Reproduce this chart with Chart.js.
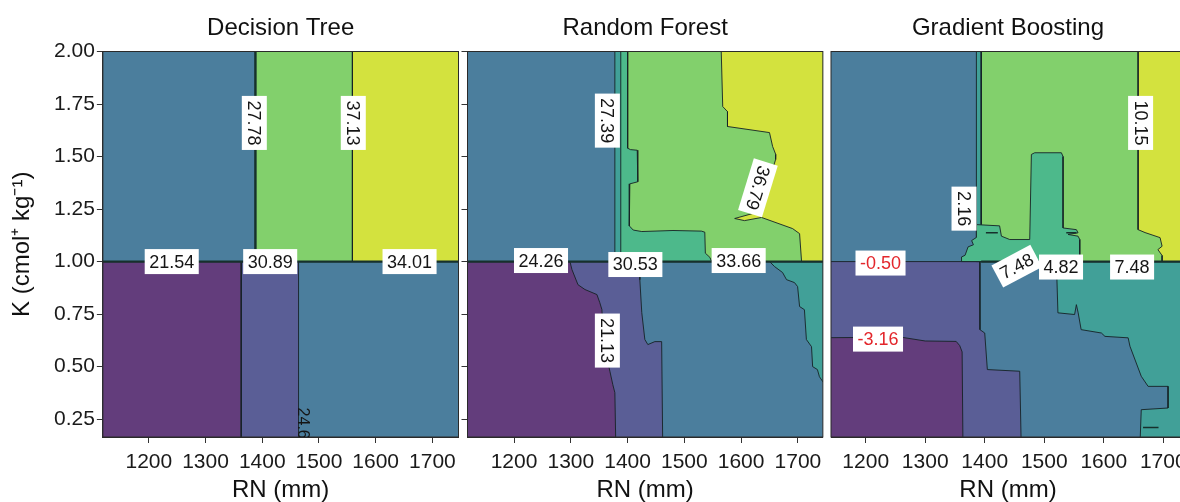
<!DOCTYPE html>
<html>
<head>
<meta charset="utf-8">
<script src="https://cdn.jsdelivr.net/npm/chart.js@4/dist/chart.umd.min.js"></script>
<style>
  html, body { margin: 0; padding: 0; background: #fff; overflow: hidden; width: 1180px; height: 502px; }
  canvas { position: absolute; top: 0; }
</style>
</head>
<body>
<canvas id="dt" width="464" height="502" style="left:0"></canvas>
<canvas id="rf" width="367" height="502" style="left:461px"></canvas>
<canvas id="gb" width="374" height="502" style="left:826px"></canvas>
<script>
// ---- axes -------------------------------------------------------------
const rnTicks = [1200, 1300, 1400, 1500, 1600, 1700];
const kTicks = [0.25, 0.5, 0.75, 1.0, 1.25, 1.5, 1.75, 2.0];
const kRange = [0.165, 2.0];
const rnRangeDT = [1119, 1746];
const rnRangeRF = [1118, 1744];
const rnRangeGB = [1141.7, 1736.5];

// ---- predicted-yield regions: [level, outline in (RN, K)] --------------
// level 0..6 runs from the lowest to the highest predicted class
const dtRegions = [
  [2, [[1100, 0.1], [1760, 0.1], [1760, 2.1], [1100, 2.1]]],
  [0, [[1100, 0.1], [1363, 0.1], [1363, 1.0], [1100, 1.0]]],
  [1, [[1363, 0.1], [1464, 0.1], [1464, 1.0], [1363, 1.0]]],
  [5, [[1388, 1.0], [1559, 1.0], [1559, 2.1], [1388, 2.1]]],
  [6, [[1559, 1.0], [1760, 1.0], [1760, 2.1], [1559, 2.1]]]
];
const dtSplits = [
  [[1100, 1.0], [1760, 1.0]],
  [[1388, 1.0], [1388, 2.1]]
];

const rfRegions = [
  [2, [[1100, 0.1], [1760, 0.1], [1760, 2.1], [1100, 2.1]]],
  [1, [[1100, 1.0], [1421.6, 1.0], [1421.6, 0.914], [1425, 0.757], [1430.4, 0.629], [1435.7, 0.605],
       [1448, 0.619], [1460, 0.619], [1462, 0.1], [1100, 0.1]]],
  [0, [[1100, 1.0], [1298.5, 1.0], [1302, 0.962], [1312.6, 0.89], [1324.9, 0.867], [1346, 0.843],
       [1351, 0.805], [1354.8, 0.771], [1358, 0.557], [1365, 0.524], [1369, 0.476], [1374, 0.414],
       [1377.6, 0.376], [1379.4, 0.1], [1100, 0.1]]],
  [3, [[1650.2, 1.0], [1659, 0.976], [1673, 0.948], [1680, 0.914], [1694, 0.9], [1699.5, 0.881],
       [1703, 0.786], [1711.5, 0.771], [1715, 0.629], [1724, 0.595], [1726, 0.5], [1734.4, 0.486],
       [1738, 0.452], [1745, 0.424], [1760, 0.42], [1760, 1.0]]],
  [3, [[1377.6, 1.0], [1377.6, 2.1], [1400, 2.1], [1400, 1.0]]],
  [5, [[1400, 1.0], [1760, 1.0], [1760, 2.1], [1400, 2.1]]],
  [4, [[1388, 2.1], [1400, 2.1], [1400, 1.54], [1405, 1.533], [1417, 1.53], [1418, 1.38], [1404, 1.37],
       [1403, 1.17], [1410, 1.15], [1425, 1.143], [1480, 1.148], [1530, 1.145], [1536, 1.14],
       [1537, 1.04], [1545, 1.02], [1548, 1.0], [1388, 1.0]]],
  [6, [[1564, 2.1], [1567.6, 1.738], [1576, 1.714], [1576, 1.643], [1650, 1.614], [1655.5, 1.548],
       [1661, 1.51], [1660.8, 1.486], [1632.6, 1.238], [1588.7, 1.205], [1606, 1.195], [1636, 1.21],
       [1690.7, 1.157], [1703, 1.133], [1706.5, 1.0], [1760, 1.0], [1760, 2.1]]]
];
const rfSplits = [
  [[1100, 1.0], [1760, 1.0]]
];

const gbRegions = [
  [2, [[1100, 0.1], [1760, 0.1], [1760, 2.1], [1100, 2.1]]],
  [1, [[1100, 1.0], [1391.6, 1.0], [1392, 0.676], [1400, 0.66], [1404.4, 0.486], [1458.8, 0.478],
       [1461.5, 0.1], [1100, 0.1]]],
  [0, [[1100, 0.637], [1260, 0.64], [1300, 0.622], [1352, 0.62], [1358, 0.6], [1362, 0.57],
       [1363.5, 0.1], [1100, 0.1]]],
  [3, [[1520.4, 1.0], [1523, 0.756], [1551, 0.748], [1554, 0.795], [1557, 0.756], [1562, 0.676],
       [1596, 0.66], [1602, 0.644], [1641, 0.637], [1644, 0.597], [1663, 0.454], [1674.5, 0.406],
       [1708, 0.406], [1708, 0.303], [1663, 0.295], [1660.5, 0.1], [1760, 0.1], [1760, 1.0]]],
  [3, [[1386, 1.0], [1386, 2.1], [1394.3, 2.1], [1394.3, 1.0]]],
  [5, [[1394.3, 1.0], [1760, 1.0], [1760, 2.1], [1394.3, 2.1]]],
  [4, [[1361, 1.0], [1361, 1.022], [1367, 1.03], [1372, 1.07], [1381, 1.08], [1378, 1.1], [1386, 1.115],
       [1386, 1.176], [1425, 1.17], [1428, 1.121], [1442, 1.105], [1475.6, 1.105], [1478.4, 1.51],
       [1484, 1.518], [1528.8, 1.518], [1531.6, 1.5], [1531.6, 1.16], [1554, 1.152], [1556.8, 1.137],
       [1540, 1.129], [1556.8, 1.121], [1559.7, 1.105], [1559.7, 1.0]]],
  [6, [[1657.7, 2.1], [1657.7, 1.152], [1669.4, 1.138], [1694.6, 1.114], [1698, 1.073], [1691, 1.057],
       [1698, 1.029], [1698, 1.0], [1760, 1.0], [1760, 2.1]]]
];
const gbSplits = [
  [[1394, 1.0], [1760, 1.0]]
];
const gbSlits = [
  [[1402, 1.137], [1422, 1.137]],
  [[1537, 1.137], [1554, 1.137]],
  [[1666, 0.21], [1692, 0.21]]
];

// ---- contour level labels ---------------------------------------------
const dtLabelText = ['27.78', '37.13', '21.54', '30.89', '34.01'];
const dtLabelAt = [[1386, 1.66], [1560.5, 1.66], [1240.4, 1.0], [1414, 1.0], [1659.7, 1.0]];
const dtLabelTurn = [90, 90, 0, 0, 0];
const dtEdgeText = '24.66';
const dtEdgeAt = [1471.4, 0.305];

const rfLabelText = ['27.39', '24.26', '30.53', '33.66', '21.13', '36.79'];
const rfLabelAt = [[1364.4, 1.671], [1247.5, 1.005], [1413.7, 0.986], [1595.7, 1.005], [1364.4, 0.624], [1629.6, 1.351]];
const rfLabelTurn = [90, 0, 0, 0, 90, 107];

const gbLabelText = ['10.15', '2.16', '-0.50', '-3.16', '7.48', '4.82', '7.48'];
const gbLabelAt = [[1661.9, 1.66], [1365.2, 1.252], [1224.9, 0.993], [1220.7, 0.631], [1453.8, 0.978], [1528.2, 0.974], [1647.6, 0.974]];
const gbLabelTurn = [90, 90, 0, 0, -28, 0, 0];

// ---- styling ----------------------------------------------------------
const LEVEL_COLORS = ['#633d7c', '#5a5e96', '#4b7e9d', '#41a098', '#4db98b', '#82d06c', '#d3e23e'];
const EDGE = 'rgba(22, 34, 38, 0.9)';
const SPLIT = '#17302c';
const FONT = "'Liberation Sans', Arial, Helvetica, sans-serif";
Chart.defaults.font.family = FONT;
Chart.defaults.color = '#1a1a1a';

const toXY = pts => pts.map(([x, y]) => ({ x, y }));

function buildDatasets(regions, splits, slits) {
  const n = regions.length;
  const sets = regions.map(([level, pts], i) => ({
    data: toXY(pts.concat([pts[0]])),
    showLine: true,
    fill: 'shape',
    backgroundColor: LEVEL_COLORS[level],
    borderColor: EDGE,
    borderWidth: 1,
    pointRadius: 0,
    order: 100 + n - i
  }));
  splits.forEach(pts => sets.push({
    data: toXY(pts), showLine: true, fill: false,
    borderColor: SPLIT, borderWidth: 2.4, pointRadius: 0, order: 1
  }));
  (slits || []).forEach(pts => sets.push({
    data: toXY(pts), showLine: true, fill: false,
    borderColor: SPLIT, borderWidth: 1.6, pointRadius: 0, order: 0
  }));
  return sets;
}

const framePlugin = {
  id: 'frame',
  afterDatasetsDraw(chart) {
    const { ctx, chartArea: a } = chart;
    ctx.save();
    ctx.strokeStyle = '#2a2a2a';
    ctx.lineWidth = 1;
    ctx.strokeRect(a.left, a.top, a.right - a.left, a.bottom - a.top);
    ctx.restore();
  }
};

function labelPlugin(texts, anchors, turns, edge) {
  return {
    id: 'levelLabels',
    afterDatasetsDraw(chart) {
      const { ctx, chartArea: a, scales: { x, y } } = chart;
      ctx.save();
      ctx.beginPath();
      ctx.rect(a.left, a.top, a.right - a.left, a.bottom - a.top);
      ctx.clip();
      ctx.font = '18px ' + FONT;
      ctx.textBaseline = 'middle';
      ctx.textAlign = 'center';
      texts.forEach((t, i) => {
        const px = x.getPixelForValue(anchors[i][0]);
        const py = y.getPixelForValue(anchors[i][1]);
        const w = ctx.measureText(t).width + 9;
        const h = 25;
        ctx.save();
        ctx.translate(px, py);
        ctx.rotate(turns[i] * Math.PI / 180);
        ctx.fillStyle = '#ffffff';
        ctx.fillRect(-w / 2, -h / 2, w, h);
        ctx.fillStyle = parseFloat(t) < 0 ? '#e3262b' : '#151515';
        ctx.fillText(t, 0, 1);
        ctx.restore();
      });
      if (edge) {
        const px = x.getPixelForValue(edge.at[0]);
        const py = y.getPixelForValue(edge.at[1]);
        ctx.save();
        ctx.translate(px, py);
        ctx.rotate(Math.PI / 2);
        ctx.font = '16px ' + FONT;
        ctx.textAlign = 'left';
        ctx.fillStyle = '#151515';
        ctx.fillText(edge.text, 0, 0);
        ctx.restore();
      }
      ctx.restore();
    }
  };
}

function makePanel(id, opts) {
  const tickFont = { size: 21, lineHeight: 1.2 };
  new Chart(document.getElementById(id), {
    type: 'scatter',
    data: { datasets: buildDatasets(opts.regions, opts.splits, opts.slits) },
    options: {
      responsive: false,
      animation: false,
      events: [],
      layout: { padding: opts.padding },
      plugins: {
        legend: { display: false },
        tooltip: { enabled: false },
        filler: { propagate: false, drawTime: 'beforeDatasetDraw' },
        title: {
          display: true, text: opts.title, fullSize: false, color: '#111',
          font: { size: 24, weight: 'normal', lineHeight: 1.2 },
          padding: { top: 14, bottom: 8.7 }
        }
      },
      scales: {
        x: {
          type: 'linear', min: opts.rn[0], max: opts.rn[1],
          afterBuildTicks: axis => { axis.ticks = rnTicks.map(v => ({ value: v })); },
          afterFit: axis => { axis.height = 65; },
          ticks: { font: tickFont, padding: 6.4, maxRotation: 0, autoSkip: false, callback: v => String(v) },
          grid: { drawOnChartArea: false, drawTicks: true, tickLength: 6, color: '#333' },
          border: { display: true, color: '#2a2a2a' },
          title: { display: true, text: 'RN (mm)', color: '#111', font: { size: 24, lineHeight: 1.0 }, padding: { top: 3.4, bottom: 0 } }
        },
        y: {
          type: 'linear', min: kRange[0], max: kRange[1],
          display: opts.yAxis !== 'none',
          afterBuildTicks: axis => { axis.ticks = kTicks.map(v => ({ value: v })); },
          ticks: { display: opts.yAxis === 'full', font: tickFont, padding: 2, autoSkip: false, callback: v => v.toFixed(2) },
          grid: { drawOnChartArea: false, drawTicks: true, tickLength: 6, color: '#333' },
          border: { display: true, color: '#2a2a2a' },
          title: {
            display: opts.yAxis === 'full', text: 'K (cmol\u207A kg\u207B\u00B9)', color: '#111',
            font: { size: 24, lineHeight: 1.2 }, padding: { top: 7.6, bottom: 15.6 }
          }
        }
      }
    },
    plugins: [framePlugin, labelPlugin(opts.labels, opts.anchors, opts.turns, opts.edge)]
  });
}

makePanel('dt', {
  title: 'Decision Tree', rn: rnRangeDT, yAxis: 'full',
  padding: { left: 0, right: 5.5, top: 0, bottom: 0 },
  regions: dtRegions, splits: dtSplits,
  labels: dtLabelText, anchors: dtLabelAt, turns: dtLabelTurn,
  edge: { text: dtEdgeText, at: dtEdgeAt }
});
makePanel('rf', {
  title: 'Random Forest', rn: rnRangeRF, yAxis: 'ticks',
  padding: { left: 0.5, right: 4.5, top: 0, bottom: 0 },
  regions: rfRegions, splits: rfSplits,
  labels: rfLabelText, anchors: rfLabelAt, turns: rfLabelTurn
});
makePanel('gb', {
  title: 'Gradient Boosting', rn: rnRangeGB, yAxis: 'none',
  padding: { left: 5, right: 15, top: 0, bottom: 0 },
  regions: gbRegions, splits: gbSplits, slits: gbSlits,
  labels: gbLabelText, anchors: gbLabelAt, turns: gbLabelTurn
});
</script>
</body>
</html>
